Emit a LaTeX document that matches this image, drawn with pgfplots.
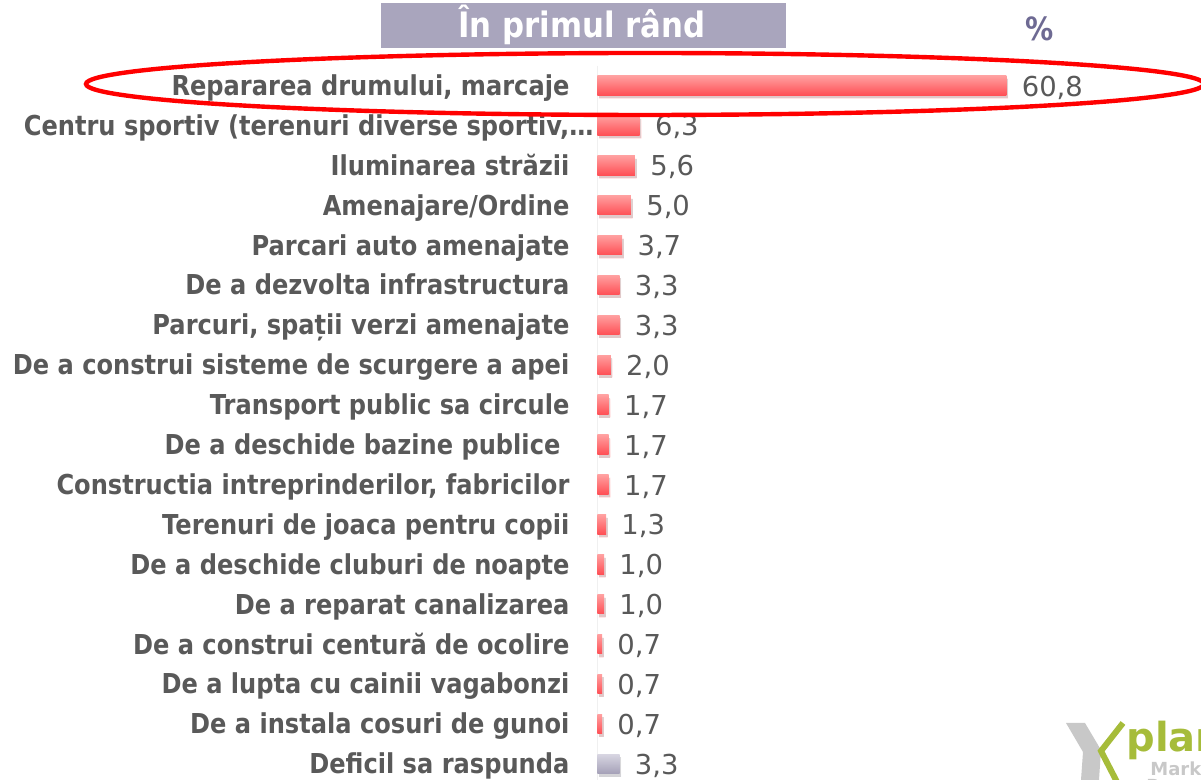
\documentclass[border=0pt]{standalone}
\usepackage{pgfplots}
\pgfplotsset{compat=1.18}
\usepackage{fontspec}
\usetikzlibrary{shadows}
\setmainfont{DejaVu Sans}
\newfontfamily\labfont{DejaVu Sans}[FakeStretch=0.88]
\definecolor{lab}{HTML}{595959}
\definecolor{titlebox}{HTML}{A9A5BD}
\definecolor{pct}{HTML}{6E6A93}
\definecolor{barTop}{HTML}{FFA0A0}
\definecolor{barBot}{HTML}{FF4F55}
\definecolor{greyTop}{HTML}{D8D6E2}
\definecolor{greyBot}{HTML}{A5A1B8}
\definecolor{logoGreen}{HTML}{A6BC3A}
\definecolor{logoGray}{HTML}{C8C8C8}
\pgfplotsset{
  redbar/.style={draw=none, top color=barTop, bottom color=barBot,
    drop shadow={shadow xshift=0.8pt, shadow yshift=-1.6pt, fill=black, opacity=0.14}},
  greybar/.style={draw=none, top color=greyTop, bottom color=greyBot,
    drop shadow={shadow xshift=0.8pt, shadow yshift=-1.6pt, fill=black, opacity=0.14}}
}
\begin{document}
\begin{tikzpicture}
\useasboundingbox (0,0) rectangle (600.5pt,390pt);
\clip (0,0) rectangle (600.5pt,390pt);
\begin{axis}[
  at={(298.65pt,357.225pt)}, anchor=north west,
  scale only axis, width=269.2pt, height=359.1pt,
  xmin=0, xmax=80, ymin=-0.5, ymax=17.5, y dir=reverse,
  enlargelimits=false,
  xbar, bar width=9.75pt, bar shift=0pt,
  axis x line=none, axis y line=left,
  y axis line style={-, draw=black!6, line width=0.6pt},
  xtick=\empty, ytick={0,...,17}, major tick length=0pt,
  yticklabels={{Repararea drumului, marcaje},
    {Centru sportiv (terenuri diverse sportiv,\rlap{…}},
    {Iluminarea străzii},
    {Amenajare/Ordine},
    {Parcari auto amenajate},
    {De a dezvolta infrastructura},
    {Parcuri, spații verzi amenajate},
    {De a construi sisteme de scurgere a apei},
    {Transport public sa circule},
    {De a deschide bazine publice\rule{4.5pt}{0pt}},
    {Constructia intreprinderilor, fabricilor},
    {Terenuri de joaca pentru copii},
    {De a deschide cluburi de noapte},
    {De a reparat canalizarea},
    {De a construi centură de ocolire},
    {De a lupta cu cainii vagabonzi},
    {De a instala cosuri de gunoi},
    {Deficil sa raspunda}},
  yticklabel style={anchor=base east, inner sep=0pt, xshift=-13.75pt, yshift=-5pt,
    font=\labfont\bfseries\fontsize{13.7pt}{16pt}\selectfont, text=lab},
  nodes near coords,
  every node near coord/.append style={anchor=base west, inner sep=0pt, xshift=7.5pt, yshift=-5.3pt,
    font=\fontsize{13.7pt}{16pt}\selectfont, text=lab},
  clip=false,
  /pgf/number format/.cd, use comma, fixed, fixed zerofill, precision=1, assume math mode=true
]
\addplot[redbar] coordinates {(60.8,0)};
\addplot[redbar] coordinates {(6.3,1)};
\addplot[redbar] coordinates {(5.6,2)};
\addplot[redbar] coordinates {(5.0,3)};
\addplot[redbar] coordinates {(3.7,4)};
\addplot[redbar] coordinates {(3.3,5)};
\addplot[redbar] coordinates {(3.3,6)};
\addplot[redbar] coordinates {(2.0,7)};
\addplot[redbar] coordinates {(1.7,8)};
\addplot[redbar] coordinates {(1.7,9)};
\addplot[redbar] coordinates {(1.7,10)};
\addplot[redbar] coordinates {(1.3,11)};
\addplot[redbar] coordinates {(1.0,12)};
\addplot[redbar] coordinates {(1.0,13)};
\addplot[redbar] coordinates {(0.7,14)};
\addplot[redbar] coordinates {(0.7,15)};
\addplot[redbar] coordinates {(0.7,16)};
\addplot[greybar] coordinates {(3.3,17)};
\end{axis}
\begin{scope}[x=0.5pt, y=-0.5pt, shift={(0pt,390pt)}]
  \draw[red, line width=2.2pt] (645,84) ellipse [x radius=279.5pt, y radius=15.5pt];
  \fill[titlebox] (381,3) rectangle (786,48);
  \node[anchor=base, inner sep=0pt, text=white, font=\labfont\bfseries\fontsize{17.5pt}{20pt}\selectfont] at (582,38) {În primul rând};
  \node[anchor=base, inner sep=0pt, text=pct, font=\labfont\bfseries\fontsize{16pt}{18pt}\selectfont] at (1040,41) {\%};
  \fill[logoGray] (1066,723) -- (1085,723) -- (1101,750) -- (1099,780) -- (1081,780) -- (1083,752) -- cycle;
  \draw[logoGreen, line width=3pt] (1123,723) -- (1101,751) -- (1117,782);
  \node[anchor=base west, inner sep=0pt, text=logoGreen, font=\bfseries\fontsize{20pt}{22pt}\selectfont] at (1126,752) {plan};
  \node[anchor=base west, inner sep=0pt, text=logoGray, font=\bfseries\fontsize{9pt}{10pt}\selectfont] at (1150,776) {Market};
  \node[anchor=base west, inner sep=0pt, text=logoGray, font=\bfseries\fontsize{9pt}{10pt}\selectfont] at (1146,793) {Research};
\end{scope}
\end{tikzpicture}
\end{document}
